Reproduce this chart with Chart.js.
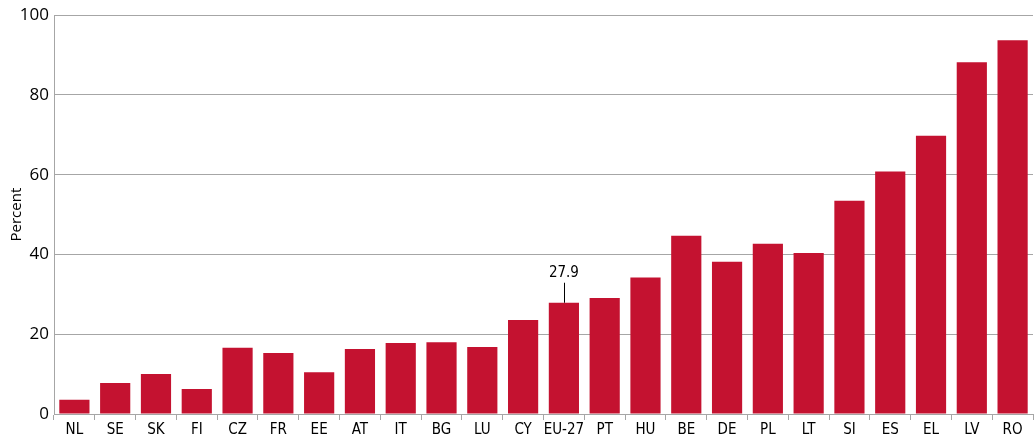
<!DOCTYPE html>
<html>
<head>
<meta charset="utf-8">
<script src="https://cdn.jsdelivr.net/npm/chart.js@4/dist/chart.umd.min.js"></script>
<style>
  html, body { margin: 0; padding: 0; background: #fff; }
  #wrap { width: 1035px; height: 439px; position: relative; }
</style>
</head>
<body>
<div id="wrap"><canvas id="chart"></canvas></div>
<script>
// ============= DATA =============
const countries = ['NL', 'SE', 'SK', 'FI', 'CZ', 'FR', 'EE', 'AT', 'IT', 'BG', 'LU', 'CY',
  'EU-27', 'PT', 'HU', 'BE', 'DE', 'PL', 'LT', 'SI', 'ES', 'EL', 'LV', 'RO'];
const percentValues = [3.6, 7.8, 10.0, 6.3, 16.6, 15.3, 10.5, 16.3, 17.8, 18.0, 16.8, 23.6,
  27.9, 29.1, 34.2, 44.7, 38.2, 42.7, 40.4, 53.5, 60.8, 69.8, 88.2, 93.7];
const yTicks = [0, 20, 40, 60, 80, 100];
const highlightLabel = 'EU-27';

const barColor = '#c41230';
const gridColor = '#a6a6a6';
const narrowFont = '"DejaVu Sans Condensed", "Liberation Sans Narrow", "Open Sans", sans-serif';

// Draws the value label with a leader line above the EU-27 bar
const calloutPlugin = {
  id: 'callout',
  afterDatasetsDraw(chart) {
    const idx = countries.indexOf(highlightLabel);
    const x = chart.scales.x.getPixelForValue(idx);
    const yTop = chart.scales.y.getPixelForValue(percentValues[idx]);
    const ctx = chart.ctx;
    ctx.save();
    ctx.strokeStyle = '#000';
    ctx.lineWidth = 1;
    ctx.beginPath();
    ctx.moveTo(Math.round(x) + 0.5, yTop);
    ctx.lineTo(Math.round(x) + 0.5, yTop - 20);
    ctx.stroke();
    ctx.fillStyle = '#000';
    ctx.font = '15px ' + narrowFont;
    ctx.textAlign = 'center';
    ctx.textBaseline = 'bottom';
    ctx.fillText(percentValues[idx].toFixed(1), x, yTop - 22);
    ctx.restore();
  }
};

const ctx = document.getElementById('chart').getContext('2d');
new Chart(ctx, {
  type: 'bar',
  data: {
    labels: countries,
    datasets: [{
      data: percentValues,
      backgroundColor: barColor,
      borderWidth: 0,
      barPercentage: 0.74,
      categoryPercentage: 1.0
    }]
  },
  options: {
    responsive: true,
    maintainAspectRatio: false,
    animation: false,
    layout: { padding: { top: 10, right: 2, left: 8, bottom: 0 } },
    plugins: {
      legend: { display: false },
      tooltip: { enabled: false }
    },
    scales: {
      x: {
        offset: true,
        afterFit: (scale) => { scale.height = 25; },
        grid: {
          offset: true,
          drawOnChartArea: false,
          drawTicks: true,
          tickLength: 6,
          color: gridColor,
          lineWidth: 1
        },
        border: { color: gridColor, width: 1 },
        ticks: {
          color: '#000',
          padding: 1,
          font: { family: narrowFont, size: 15 },
          maxRotation: 0,
          autoSkip: false
        }
      },
      y: {
        min: 0,
        max: 100,
        afterFit: (scale) => { scale.width = 46; },
        afterBuildTicks: (scale) => { scale.ticks = yTicks.map(v => ({ value: v })); },
        grid: {
          color: gridColor,
          lineWidth: 1,
          drawTicks: false
        },
        border: { color: gridColor, width: 1 },
        ticks: {
          color: '#000',
          padding: 5,
          font: { family: '"Open Sans", sans-serif', size: 17 }
        },
        title: {
          display: true,
          text: 'Percent',
          color: '#000',
          padding: 0,
          font: { family: '"Open Sans", sans-serif', size: 15 }
        }
      }
    }
  },
  plugins: [calloutPlugin]
});
</script>
</body>
</html>
